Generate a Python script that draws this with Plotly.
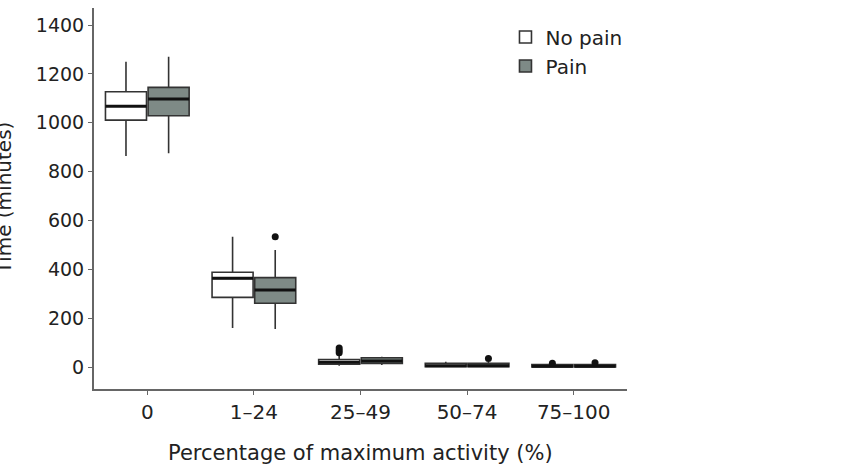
import plotly.graph_objects as go

categories = ["0", "1\u201324", "25\u201349", "50\u201374", "75\u2013100"]

# No pain
np_lower = [864, 160, 5, 0, 0]
np_q1 = [1011, 285, 12, 1, 0]
np_median = [1068, 363, 20, 5, 3]
np_q3 = [1127, 388, 31, 15, 10]
np_upper = [1250, 533, 45, 22, 12]
np_out_cat = [2, 2, 2, 4]
np_out_val = [58, 68, 78, 15]

# Pain
p_lower = [875, 156, 8, 0, 0]
p_q1 = [1029, 261, 15, 1, 0]
p_median = [1097, 315, 25, 5, 3]
p_q3 = [1145, 366, 38, 15, 10]
p_upper = [1270, 479, 42, 22, 12]
p_out_cat = [1, 3, 4]
p_out_val = [533, 35, 17]

OFFSET = 0.2
WIDTH = 0.385
LINE = "#333333"
FONT = "DejaVu Sans"

idx = list(range(len(categories)))
fig = go.Figure()

series = [
    ("No pain", "white", -OFFSET, np_lower, np_q1, np_median, np_q3, np_upper, np_out_cat, np_out_val),
    ("Pain", "#7e8a86", OFFSET, p_lower, p_q1, p_median, p_q3, p_upper, p_out_cat, p_out_val),
]

for name, fill, off, lo, q1, med, q3, up, oc, ov in series:
    xs = [i + off for i in idx]
    fig.add_trace(go.Box(
        name=name, x=xs, q1=q1, median=med, q3=q3,
        lowerfence=lo, upperfence=up, width=WIDTH,
        fillcolor=fill, line=dict(color=LINE, width=1.6),
        whiskerwidth=0, boxpoints=False, showlegend=True,
    ))
    # thicker median line
    mx, my = [], []
    for x, m in zip(xs, med):
        mx += [x - WIDTH / 2, x + WIDTH / 2, None]
        my += [m, m, None]
    fig.add_trace(go.Scatter(x=mx, y=my, mode="lines",
                             line=dict(color="#111111", width=3),
                             showlegend=False, hoverinfo="skip"))
    fig.add_trace(go.Scatter(x=[c + off for c in oc], y=ov, mode="markers",
                             marker=dict(color="#111111", size=7),
                             showlegend=False))

fig.update_layout(
    width=855, height=468,
    margin=dict(l=94, r=228, t=8, b=79),
    paper_bgcolor="white", plot_bgcolor="white",
    font=dict(family=FONT, size=20, color="#222222"),
    showlegend=True,
    legend=dict(x=0.772, y=0.975, xanchor="left", yanchor="top",
                font=dict(size=20), bgcolor="rgba(0,0,0,0)",
                tracegroupgap=0, itemwidth=30),
    xaxis=dict(range=[-0.5, 4.5], tickmode="array", tickvals=idx,
               ticktext=categories, showgrid=False, zeroline=False,
               showline=True, linecolor="#666666", linewidth=2,
               ticks="outside", ticklen=4, tickcolor="#666666",
               tickfont=dict(size=20)),
    yaxis=dict(range=[-90, 1470], tickvals=[0, 200, 400, 600, 800, 1000, 1200, 1400],
               showgrid=False, zeroline=False,
               showline=True, linecolor="#666666", linewidth=2,
               ticks="outside", ticklen=4, tickcolor="#666666",
               tickfont=dict(size=19)),
    annotations=[
        dict(text="Time (minutes)", xref="paper", yref="paper", x=0, y=0.5,
             xanchor="center", yanchor="middle", xshift=-91, textangle=-90,
             showarrow=False, font=dict(size=20)),
        dict(text="Percentage of maximum activity (%)", xref="paper", yref="paper",
             x=0.5, y=0, xanchor="center", yanchor="middle", yshift=-64,
             showarrow=False, font=dict(size=21)),
    ],
)

fig.write_html("out.html")
